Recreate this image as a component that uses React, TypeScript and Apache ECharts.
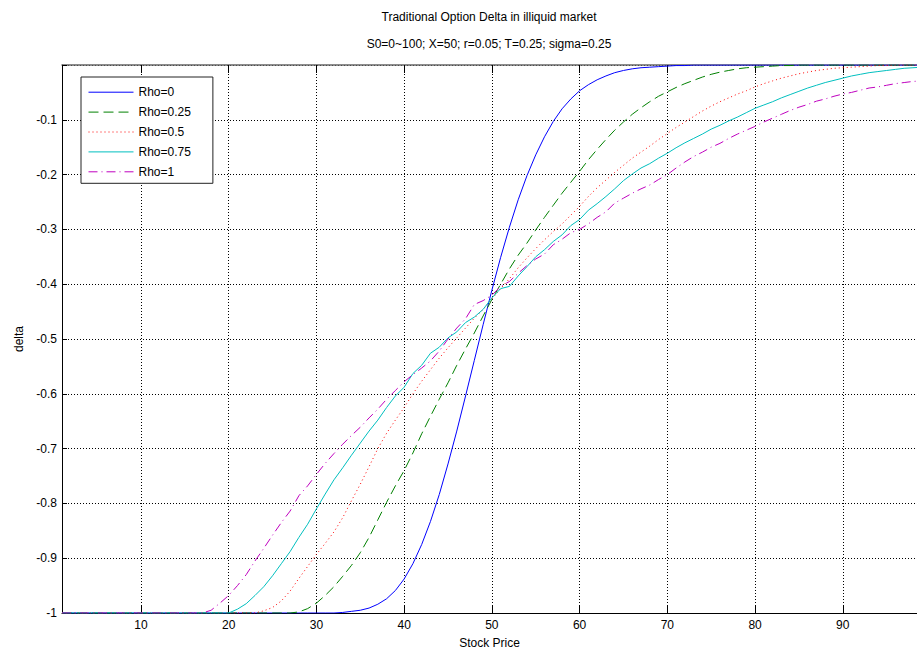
import React, { useEffect, useRef } from "react";
import * as echarts from "echarts";

const stockPrice = [
  1, 2, 3, 4, 5, 6, 7, 8, 9, 10,
  11, 12, 13, 14, 15, 16, 17, 18, 19, 20,
  21, 22, 23, 24, 25, 26, 27, 28, 29, 30,
  31, 32, 33, 34, 35, 36, 37, 38, 39, 40,
  41, 42, 43, 44, 45, 46, 47, 48, 49, 50,
  51, 52, 53, 54, 55, 56, 57, 58, 59, 60,
  61, 62, 63, 64, 65, 66, 67, 68, 69, 70,
  71, 72, 73, 74, 75, 76, 77, 78, 79, 80,
  81, 82, 83, 84, 85, 86, 87, 88, 89, 90,
  91, 92, 93, 94, 95, 96, 97, 98, 99,
];

const xTickValues = [10, 20, 30, 40, 50, 60, 70, 80, 90];

const rho0 = [
  -1, -1, -1, -1, -1, -1, -1, -1, -1, -1,
  -1, -1, -1, -1, -1, -1, -1, -1, -1, -1,
  -1, -1, -1, -1, -1, -1, -1, -1, -1, -1,
  -1, -1, -0.999, -0.997, -0.995, -0.991, -0.984, -0.974, -0.959, -0.938,
  -0.91, -0.875, -0.833, -0.784, -0.728, -0.668, -0.604, -0.539, -0.474, -0.411,
  -0.351, -0.296, -0.246, -0.202, -0.164, -0.131, -0.103, -0.08, -0.062, -0.047,
  -0.036, -0.027, -0.02, -0.014, -0.01, -0.007, -0.005, -0.004, -0.003, -0.002,
  -0.001, -0.001, 0, 0, 0, 0, 0, 0, 0, 0,
  0, 0, 0, 0, 0, 0, 0, 0, 0, 0,
  0, 0, 0, 0, 0, 0, 0, 0, 0,
];

const rho025 = [
  -1, -1, -1, -1, -1, -1, -1, -1, -1, -1,
  -1, -1, -1, -1, -1, -1, -1, -1, -1, -1,
  -1, -1, -1, -1, -1, -1, -1, -0.998, -0.992, -0.982,
  -0.968, -0.952, -0.933, -0.913, -0.89, -0.862, -0.83, -0.798, -0.768, -0.74,
  -0.708, -0.673, -0.641, -0.61, -0.58, -0.548, -0.518, -0.489, -0.458, -0.428,
  -0.4, -0.372, -0.347, -0.325, -0.301, -0.278, -0.256, -0.234, -0.214, -0.194,
  -0.173, -0.154, -0.136, -0.119, -0.104, -0.09, -0.078, -0.067, -0.057, -0.049,
  -0.041, -0.034, -0.028, -0.022, -0.017, -0.013, -0.01, -0.007, -0.005, -0.004,
  -0.003, -0.002, -0.001, -0.001, 0, 0, 0, 0, 0, 0,
  0, 0, 0, 0, 0, 0, 0, 0, 0,
];

const rho05 = [
  -1, -1, -1, -1, -1, -1, -1, -1, -1, -1,
  -1, -1, -1, -1, -1, -1, -1, -1, -1, -1,
  -1, -1, -1, -0.996, -0.99, -0.978, -0.96, -0.937, -0.915, -0.893,
  -0.873, -0.852, -0.826, -0.795, -0.765, -0.733, -0.7, -0.672, -0.648, -0.625,
  -0.6, -0.577, -0.556, -0.535, -0.516, -0.498, -0.48, -0.462, -0.446, -0.427,
  -0.408, -0.39, -0.37, -0.352, -0.335, -0.319, -0.304, -0.29, -0.274, -0.258,
  -0.24, -0.224, -0.21, -0.196, -0.183, -0.17, -0.159, -0.148, -0.136, -0.125,
  -0.114, -0.104, -0.094, -0.084, -0.075, -0.067, -0.06, -0.053, -0.047, -0.04,
  -0.034, -0.029, -0.024, -0.02, -0.016, -0.013, -0.01, -0.008, -0.006, -0.005,
  -0.004, -0.003, -0.002, -0.001, -0.001, 0, 0, 0, 0,
];

const rho075 = [
  -1, -1, -1, -1, -1, -1, -1, -1, -1, -1,
  -1, -1, -1, -1, -1, -1, -1, -1, -1, -1,
  -0.993, -0.983, -0.968, -0.952, -0.932, -0.91, -0.888, -0.862, -0.838, -0.81,
  -0.783, -0.757, -0.735, -0.712, -0.69, -0.668, -0.648, -0.625, -0.604, -0.588,
  -0.563, -0.548, -0.526, -0.515, -0.498, -0.487, -0.47, -0.46, -0.446, -0.425,
  -0.408, -0.404, -0.385, -0.368, -0.35, -0.337, -0.322, -0.31, -0.293, -0.282,
  -0.265, -0.253, -0.24, -0.226, -0.211, -0.199, -0.188, -0.18, -0.17, -0.161,
  -0.151, -0.142, -0.134, -0.126, -0.117, -0.11, -0.102, -0.095, -0.087, -0.079,
  -0.073, -0.067, -0.06, -0.054, -0.048, -0.042, -0.037, -0.032, -0.028, -0.024,
  -0.02, -0.017, -0.014, -0.012, -0.01, -0.008, -0.006, -0.005, -0.004,
];

const rho1 = [
  -1, -1, -1, -1, -1, -1, -1, -1, -1, -1,
  -1, -1, -1, -1, -1, -1, -1, -0.995, -0.982, -0.968,
  -0.95, -0.93, -0.905, -0.882, -0.858, -0.835, -0.814, -0.786, -0.768, -0.747,
  -0.727, -0.709, -0.692, -0.676, -0.661, -0.644, -0.628, -0.61, -0.594, -0.578,
  -0.565, -0.553, -0.54, -0.522, -0.5, -0.48, -0.463, -0.437, -0.43, -0.42,
  -0.404, -0.395, -0.38, -0.366, -0.354, -0.345, -0.328, -0.318, -0.306, -0.3,
  -0.29, -0.278, -0.268, -0.252, -0.243, -0.234, -0.226, -0.219, -0.209, -0.2,
  -0.188, -0.177, -0.167, -0.159, -0.15, -0.143, -0.134, -0.126, -0.119, -0.112,
  -0.104, -0.097, -0.09, -0.083, -0.077, -0.072, -0.066, -0.062, -0.057, -0.053,
  -0.05, -0.046, -0.042, -0.04, -0.037, -0.034, -0.032, -0.03, -0.029,
];

const seriesNames = ["Rho=0", "Rho=0.25", "Rho=0.5", "Rho=0.75", "Rho=1"];
const seriesColors = ["#0000ff", "#008000", "#ff0000", "#00bfbf", "#bf00bf"];

const titleText = "Traditional Option Delta in illiquid market";
const subtitleText = "S0=0~100; X=50; r=0.05; T=0.25; sigma=0.25";

export default function App() {
  const ref = useRef<HTMLDivElement>(null);

  useEffect(() => {
    if (!ref.current) return;
    const chart = echarts.init(ref.current, null, { renderer: "svg" });
    const font = "'Liberation Sans', Arial, sans-serif";
    const allData = [rho0, rho025, rho05, rho075, rho1];
    const lineTypes: any[] = ["solid", [10, 5], [1, 3], "solid", [9, 4, 1, 4]];

    const series = allData.map((ys, k) => ({
      name: seriesNames[k],
      type: "line",
      data: stockPrice.map((x, i) => [x, ys[i]]),
      symbol: "none",
      showSymbol: false,
      clip: true,
      lineStyle: { color: seriesColors[k], width: 1, type: lineTypes[k] },
      itemStyle: { color: seriesColors[k] },
      z: 3 + k,
    }));

    chart.setOption({
      animation: false,
      backgroundColor: "#ffffff",
      textStyle: { fontFamily: font },
      grid: { left: 62, top: 65, right: 0, bottom: 44 },
      graphic: [
        {
          type: "text",
          x: 489,
          y: 17,
          style: {
            text: titleText,
            fill: "#000",
            font: `12px ${font}`,
            textAlign: "center",
            textVerticalAlign: "middle",
          },
        },
        {
          type: "text",
          x: 489,
          y: 44,
          style: {
            text: subtitleText,
            fill: "#000",
            font: `12px ${font}`,
            textAlign: "center",
            textVerticalAlign: "middle",
          },
        },
      ],
      legend: {
        orient: "vertical",
        left: 81,
        top: 77,
        itemWidth: 45,
        itemHeight: 14,
        itemGap: 7.9,
        padding: [9.2, 22, 5.5, 7],
        backgroundColor: "#ffffff",
        borderColor: "#222",
        borderWidth: 1,
        borderRadius: 0,
        itemStyle: { opacity: 0 },
        lineStyle: { width: 1 },
        textStyle: { color: "#000", fontSize: 12, fontFamily: font },
        data: seriesNames,
      },
      xAxis: [
        {
          type: "value",
          min: 1,
          max: 98.46,
          name: "Stock Price",
          nameLocation: "middle",
          nameGap: 24,
          nameTextStyle: { color: "#000", fontSize: 12, fontFamily: font },
          axisLine: { show: true, onZero: false, lineStyle: { color: "#000", width: 1 } },
          axisTick: {
            show: true,
            inside: true,
            length: 8,
            customValues: xTickValues,
            lineStyle: { color: "#000", width: 1 },
          },
          axisLabel: {
            color: "#000",
            fontSize: 12,
            fontFamily: font,
            margin: 6,
            customValues: xTickValues,
          },
          splitLine: {
            show: true,
            lineStyle: { color: "#000", width: 1, type: [1, 2] },
          },
        },
        {
          type: "value",
          position: "top",
          min: 1,
          max: 98.46,
          axisLine: { show: true, onZero: false, lineStyle: { color: "#666", width: 1.5 } },
          axisTick: {
            show: true,
            inside: true,
            length: 8,
            customValues: xTickValues,
            lineStyle: { color: "#000", width: 1 },
          },
          axisLabel: { show: false },
          splitLine: { show: false },
        },
      ],
      yAxis: {
        type: "value",
        min: -1,
        max: 0,
        interval: 0.1,
        name: "delta",
        nameLocation: "middle",
        nameRotate: 90,
        nameGap: 37,
        nameTextStyle: { color: "#000", fontSize: 12, fontFamily: font },
        axisLine: { show: true, onZero: false, lineStyle: { color: "#000", width: 1 } },
        axisTick: { show: true, inside: true, length: 5, lineStyle: { color: "#000" } },
        axisLabel: {
          color: "#000",
          fontSize: 12,
          fontFamily: font,
          margin: 5,
          formatter: (v: number) => {
            const r = Math.round(v * 10) / 10;
            if (r === 0) return "";
            return String(r);
          },
        },
        splitLine: {
          show: true,
          lineStyle: { color: "#000", width: 1, type: [1, 2] },
        },
      },
      series,
    });

    return () => chart.dispose();
  }, []);

  return (
    <div
      ref={ref}
      style={{ position: "fixed", left: 0, top: 0, width: 917, height: 657, background: "#fff" }}
    />
  );
}
